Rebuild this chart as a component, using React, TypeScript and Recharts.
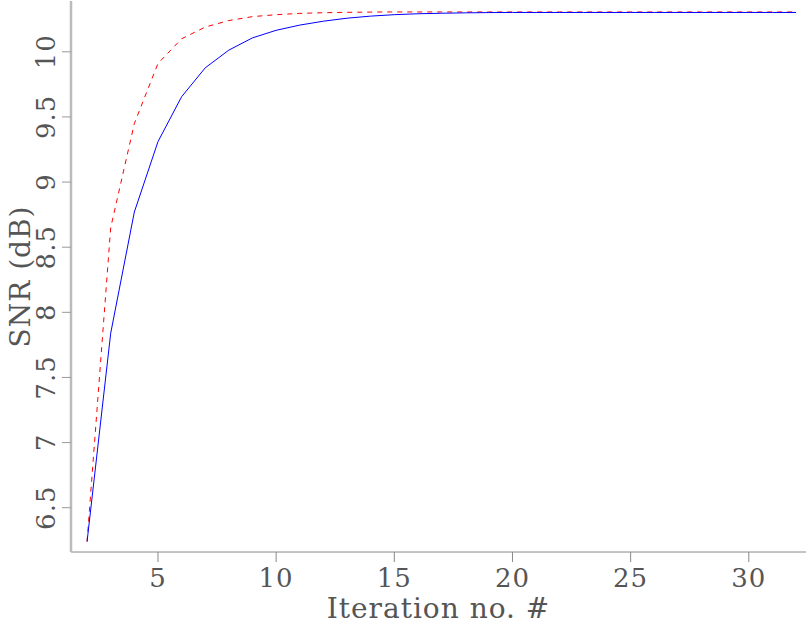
import { LineChart, Line, XAxis, YAxis } from "recharts";

const iterations = [
  2, 3, 4, 5, 6, 7, 8, 9, 10, 11, 12, 13, 14, 15, 16, 17, 18, 19, 20, 21, 22,
  23, 24, 25, 26, 27, 28, 29, 30, 31, 32,
];

// solid blue curve
const snrSolid = [
  6.24, 7.84, 8.77, 9.31, 9.655, 9.877, 10.013, 10.107, 10.165, 10.205, 10.235,
  10.258, 10.274, 10.285, 10.292, 10.296, 10.299, 10.301, 10.302, 10.302, 10.302,
  10.302, 10.302, 10.302, 10.302, 10.302, 10.302, 10.302, 10.302, 10.302, 10.302,
];

// dashed red curve
const snrDashed = [
  6.24, 8.65, 9.45, 9.91, 10.1, 10.19, 10.24, 10.27, 10.285, 10.295, 10.3,
  10.303, 10.305, 10.306, 10.306, 10.306, 10.306, 10.306, 10.306, 10.306, 10.306,
  10.306, 10.306, 10.306, 10.306, 10.306, 10.306, 10.306, 10.306, 10.306, 10.306,
];

const xTicks = [5, 10, 15, 20, 25, 30];
const yTicks = [6.5, 7, 7.5, 8, 8.5, 9, 9.5, 10];

const FONT = "'DejaVu Serif', serif";
const TEXT_COLOR = "#555";

const data = iterations.map((it, i) => ({
  it,
  solid: snrSolid[i],
  dashed: snrDashed[i],
}));

function XTick({ x, y, payload }: any) {
  return (
    <text
      x={x}
      y={y}
      dy={25}
      textAnchor="middle"
      fontFamily={FONT}
      fontSize={26}
      letterSpacing={1}
      fill={TEXT_COLOR}
    >
      {payload.value}
    </text>
  );
}

function YTick({ x, y, payload }: any) {
  const tx = x - 7;
  return (
    <text
      x={tx}
      y={y}
      transform={`rotate(-90 ${tx} ${y})`}
      textAnchor="middle"
      fontFamily={FONT}
      fontSize={26}
      letterSpacing={1}
      fill={TEXT_COLOR}
    >
      {payload.value}
    </text>
  );
}

export default function App() {
  return (
    <div style={{ position: "absolute", left: 0, top: 0, width: 809, height: 625, background: "#fff" }}>
      <LineChart
        width={809}
        height={625}
        data={data}
        margin={{ top: 1, right: 3, bottom: 0, left: 0 }}
      >
        <XAxis
          dataKey="it"
          type="number"
          domain={[1.32, 32.42]}
          ticks={xTicks}
          allowDataOverflow
          height={73}
          tickSize={10}
          tickMargin={0}
          stroke="#888"
          tick={<XTick />}
          label={{
            content: ({ viewBox }: any) => (
              <text
                x={viewBox.x + viewBox.width / 2}
                y={viewBox.y + 66}
                textAnchor="middle"
                fontFamily={FONT}
                fontSize={28}
                letterSpacing={1}
                fill={TEXT_COLOR}
              >
                Iteration no. #
              </text>
            ),
          }}
        />
        <XAxis
          xAxisId="top"
          orientation="top"
          type="number"
          domain={[1.32, 32.42]}
          height={0}
          tick={false}
          tickLine={false}
          axisLine={{ stroke: "#bbb", strokeWidth: 2.5 }}
        />
        <YAxis
          type="number"
          domain={[6.16, 10.39]}
          ticks={yTicks}
          allowDataOverflow
          width={71}
          tickSize={9}
          tickMargin={0}
          stroke="#999"
          axisLine={{ stroke: "#bbb", strokeWidth: 2.5 }}
          tick={<YTick />}
          label={{
            content: ({ viewBox }: any) => {
              const cx = 30;
              const cy = viewBox.y + viewBox.height / 2;
              return (
                <text
                  x={cx}
                  y={cy}
                  transform={`rotate(-90 ${cx} ${cy})`}
                  textAnchor="middle"
                  fontFamily={FONT}
                  fontSize={28}
                  letterSpacing={1}
                  fill={TEXT_COLOR}
                >
                  SNR (dB)
                </text>
              );
            },
          }}
        />
        <YAxis
          yAxisId="right"
          orientation="right"
          type="number"
          domain={[6.16, 10.39]}
          width={0}
          tick={false}
          tickLine={false}
          axisLine={{ stroke: "#777", strokeWidth: 1 }}
        />
        <Line
          dataKey="dashed"
          stroke="#ff0000"
          strokeWidth={1}
          strokeDasharray="5 5"
          dot={false}
          isAnimationActive={false}
        />
        <Line
          dataKey="solid"
          stroke="#0000ff"
          strokeWidth={1}
          dot={false}
          isAnimationActive={false}
        />
      </LineChart>
    </div>
  );
}
